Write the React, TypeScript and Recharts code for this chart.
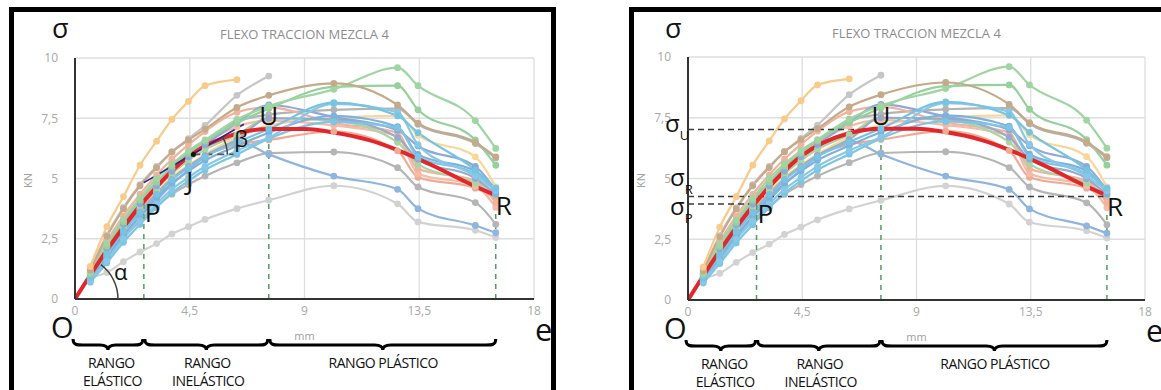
import {
  LineChart,
  Line,
  XAxis,
  YAxis,
  CartesianGrid,
  ReferenceDot,
} from "recharts";

// lecturas de deflexión (mm) comunes a todas las probetas
const lecturas = [0.6, 1.25, 1.9, 2.55, 3.2, 3.8, 4.45, 5.1, 6.35, 7.6, 10.15, 12.65, 13.45, 15.7, 16.5];

// carga (KN) por probeta
const p01 = [1.35, 3.0, 4.25, 5.55, 6.55, 7.45, 8.2, 8.85, 9.1];
const p02 = [1.2, 2.65, 3.8, 4.75, 5.5, 6.1, 6.65, 7.2, 8.45, 9.25];
const p03 = [1.2, 2.6, 3.75, 4.7, 5.45, 6.1, 6.6, 7.05, 7.95, 8.45, 8.95, 8.05, 7.3, 6.5, 5.9];
const p04 = [1.1, 2.3, 3.3, 4.2, 5.0, 5.6, 6.15, 6.6, 7.45, 8.0, 8.7, 9.6, 8.85, 7.4, 6.25];
const p05 = [1.05, 2.2, 3.2, 4.1, 4.85, 5.5, 6.05, 6.55, 7.3, 7.9, 8.8, 8.85, 7.85, 6.6, 5.55];
const p06 = [0.9, 1.85, 2.8, 3.6, 4.35, 4.95, 5.45, 5.9, 6.5, 7.05, 8.15, 7.6, 6.9, 5.35, 4.6];
const p07 = [0.75, 1.6, 2.5, 3.25, 3.95, 4.55, 5.05, 5.5, 6.15, 6.7, 8.1, 7.75, 6.4, 5.1, 4.5];
const p08 = [1.0, 2.1, 3.1, 3.95, 4.7, 5.3, 5.9, 6.4, 7.3, 8.05, 7.55, 7.0, 6.35, 5.5, 4.5];
const p09 = [1.05, 2.2, 3.2, 4.05, 4.8, 5.4, 5.95, 6.45, 7.35, 7.65, 7.85, 7.9, 7.25, 6.45, 5.85];
const p10 = [0.95, 2.0, 2.95, 3.75, 4.45, 5.05, 5.55, 6.0, 6.7, 7.2, 7.5, 7.6, 6.8, 5.9, 4.65];
const p11 = [1.1, 2.4, 3.45, 4.35, 5.15, 5.8, 6.4, 6.95, 7.75, 7.95, 7.3, 6.9, 5.4, 4.9, 4.0];
const p12 = [1.0, 2.15, 3.15, 4.0, 4.75, 5.4, 5.95, 6.45, 7.15, 7.4, 7.2, 6.75, 5.2, 4.7, 3.8];
const p13 = [0.9, 1.95, 2.9, 3.7, 4.4, 5.0, 5.5, 5.95, 6.4, 6.6, 6.95, 6.15, 5.05, 4.6, 4.2];
const p14 = [0.95, 2.0, 3.0, 3.85, 4.6, 5.2, 5.75, 6.2, 6.8, 7.5, 7.4, 6.5, 5.6, 4.8, 4.3];
const p15 = [0.85, 1.75, 2.65, 3.45, 4.2, 4.8, 5.3, 5.75, 6.35, 6.9, 7.6, 7.15, 6.0, 5.3, 4.4];
const p16 = [0.9, 1.85, 2.8, 3.6, 4.3, 4.95, 5.5, 5.95, 6.6, 7.5, 7.45, 6.7, 5.8, 5.0, 4.35];
const p17 = [0.85, 1.75, 2.55, 3.25, 3.85, 4.35, 4.75, 5.1, 5.65, 6.05, 6.1, 5.45, 4.65, 4.0, 3.1];
const p18 = [0.8, 1.7, 2.6, 3.4, 4.1, 4.75, 5.35, 5.9, 6.55, 6.0, 5.1, 4.55, 3.75, 3.05, 2.75];
const p19 = [0.9, 1.1, 1.55, 1.95, 2.3, 2.7, 3.0, 3.3, 3.75, 4.1, 4.7, 3.95, 3.2, 2.85, 2.55];
const p20 = [0.7, 1.5, 2.35, 3.1, 3.8, 4.4, 4.9, 5.35, 6.0, 6.65, 7.35, 7.1, 5.9, 5.2, 4.6];

// curva idealizada (roja)
const curvaX = [0, 1.3, 2.7, 4.5, 6.3, 7.6, 9, 10.2, 11.5, 12.6, 14, 15.6, 16.5];
const curvaY = [0, 2.1, 4.05, 5.95, 6.85, 7.05, 7.05, 6.9, 6.6, 6.2, 5.55, 4.72, 4.3];

// puntos característicos
const puntoP = { x: 2.7, y: 4.05 };
const puntoJ = { x: 4.64, y: 6.0 };
const puntoU = { x: 7.6, y: 7.05 };
const puntoR = { x: 16.5, y: 4.3 };
const tangenteJ = [{ x: 2.7, y: 4.83 }, { x: 6.62, y: 7.25 }];
const horizontalJ = [puntoJ, { x: 6.5, y: 6.0 }];
const sigmaU = 7.02;
const sigmaR = 4.26;
const sigmaP = 3.95;

const ticksX = [0, 4.5, 9, 13.5, 18];
const ticksY = [0, 2.5, 5, 7.5, 10];

const probetas = [
  { id: "p02", vals: p02, color: "#c6c6c6" },
  { id: "p19", vals: p19, color: "#d2d2d2" },
  { id: "p17", vals: p17, color: "#b5b5b5" },
  { id: "p18", vals: p18, color: "#8fb5de" },
  { id: "p09", vals: p09, color: "#b3b3b3" },
  { id: "p10", vals: p10, color: "#f9d79a" },
  { id: "p13", vals: p13, color: "#efaa94" },
  { id: "p12", vals: p12, color: "#f4bba8" },
  { id: "p11", vals: p11, color: "#f2b39e" },
  { id: "p14", vals: p14, color: "#a8d5a5" },
  { id: "p16", vals: p16, color: "#9aa9c9" },
  { id: "p08", vals: p08, color: "#8ea9d6" },
  { id: "p15", vals: p15, color: "#7fb1df" },
  { id: "p20", vals: p20, color: "#7cc6e4" },
  { id: "p07", vals: p07, color: "#86c8e6" },
  { id: "p06", vals: p06, color: "#77c3e2" },
  { id: "p05", vals: p05, color: "#96d09d" },
  { id: "p04", vals: p04, color: "#9fd5a3" },
  { id: "p03", vals: p03, color: "#c4aa8a" },
  { id: "p01", vals: p01, color: "#f8cb8a" },
];

const curva = curvaX.map((x, i) => ({ x, y: curvaY[i] }));
const coma = (v: number) => String(v).replace(".", ",");
const FONT = "'Open Sans', sans-serif";

const letra = (t: string, dx: number, dy: number, anchor: "start" | "middle" = "start", size = 26) =>
  (p: any) => (
    <text x={p.cx + dx} y={p.cy + dy} fontSize={size} fontFamily={FONT} textAnchor={anchor} fill="#111">
      {t}
    </text>
  );

const arco = (r: number, a0: number, a1: number) => (p: any) => {
  const rad = (a: number) => (a * Math.PI) / 180;
  const x0 = p.cx + r * Math.cos(rad(a0));
  const y0 = p.cy - r * Math.sin(rad(a0));
  const x1 = p.cx + r * Math.cos(rad(a1));
  const y1 = p.cy - r * Math.sin(rad(a1));
  return <path d={`M${x0},${y0} A${r},${r} 0 0 0 ${x1},${y1}`} fill="none" stroke="#444" strokeWidth={1.5} />;
};

function llave(x1: number, x2: number, y: number) {
  const m = (x1 + x2) / 2;
  return `M${x1},${y} C${x1},${y + 6} ${x1 + 4},${y + 6} ${x1 + 10},${y + 6} L${m - 8},${y + 6} C${m - 3},${y + 6} ${m},${y + 8} ${m},${y + 11} C${m},${y + 8} ${m + 3},${y + 6} ${m + 8},${y + 6} L${x2 - 10},${y + 6} C${x2 - 4},${y + 6} ${x2},${y + 6} ${x2},${y}`;
}

// trazo auxiliar (guías, tangente) dibujado como serie para que quede encima
function guia(key: string, data: { x: number; y: number }[], stroke: string, dash?: string, w = 1.5) {
  return (
    <Line
      key={key}
      data={data}
      dataKey="y"
      type="linear"
      stroke={stroke}
      strokeWidth={w}
      strokeDasharray={dash}
      dot={false}
      activeDot={false}
      isAnimationActive={false}
    />
  );
}

interface PanelProps {
  frameX: number;
  frameW: number;
  chartX: number;
  chartW: number;
  plotL: number;
  plotR: number;
  plotT: number;
  plotB: number;
  variante: "angulos" | "tensiones";
}

function Panel({ frameX, frameW, chartX, chartW, plotL, plotR, plotT, plotB, variante }: PanelProps) {
  const H = 340;
  const px = (x: number) => plotL + (x / 18) * (plotR - plotL);
  const xP = px(puntoP.x);
  const xU = px(puntoU.x);
  const xR = px(puntoR.x);
  const cx = (plotL + plotR) / 2;
  const yb = plotB + 42;
  const verde = "#4f9e5f";
  const negro = "#3a3a3a";

  return (
    <>
      <div
        style={{
          position: "absolute",
          left: frameX,
          top: 7,
          width: frameW,
          height: 390,
          border: "5px solid #000",
          boxSizing: "border-box",
        }}
      />
      <div style={{ position: "absolute", left: chartX, top: 0 }}>
        <LineChart
          width={chartW}
          height={H}
          margin={{ top: plotT, right: chartX + chartW - plotR, bottom: H - plotB - 30, left: 0 }}
        >
          <CartesianGrid stroke="#dedede" strokeWidth={1.3} />
          <XAxis
            type="number"
            dataKey="x"
            domain={[0, 18]}
            ticks={ticksX}
            interval={0}
            allowDataOverflow
            tickFormatter={coma}
            tickLine={false}
            tickMargin={1}
            height={30}
            axisLine={{ stroke: "#333", strokeWidth: 2 }}
            tick={{ fontSize: 12, fill: "#a8a8a8", fontFamily: FONT }}
          />
          <YAxis
            type="number"
            dataKey="y"
            domain={[0, 10]}
            ticks={ticksY}
            interval={0}
            allowDataOverflow
            tickFormatter={coma}
            tickLine={false}
            tickMargin={11}
            width={plotL - chartX}
            axisLine={{ stroke: "#333", strokeWidth: 2 }}
            tick={{ fontSize: 12, fill: "#a8a8a8", fontFamily: FONT }}
          />
          {probetas.map((s) => (
            <Line
              key={s.id}
              data={s.vals.map((y, i) => ({ x: lecturas[i], y }))}
              dataKey="y"
              type="monotone"
              stroke={s.color}
              strokeWidth={2.2}
              dot={{ r: 3.4, fill: s.color, stroke: s.color, strokeWidth: 0 }}
              activeDot={false}
              isAnimationActive={false}
            />
          ))}
          {[puntoP, puntoU, puntoR].map((pt, i) =>
            guia("v" + i, [{ x: pt.x, y: 0 }, pt], verde, "5 5")
          )}
          {variante === "tensiones" && [
            guia("su", [{ x: 0, y: sigmaU }, { x: puntoU.x, y: sigmaU }], negro, "6 4"),
            guia("sr", [{ x: 0, y: sigmaR }, { x: puntoR.x, y: sigmaR }], negro, "6 4"),
            guia("sp", [{ x: 0, y: sigmaP }, { x: puntoP.x, y: sigmaP }], negro, "6 4"),
          ]}
          <Line
            data={curva}
            dataKey="y"
            type="monotone"
            stroke="#e2262b"
            strokeWidth={4}
            dot={false}
            activeDot={false}
            isAnimationActive={false}
          />
          {variante === "angulos" && [
            guia("tg", tangenteJ, "#25288a", undefined, 1.6),
            guia("hj", horizontalJ, "#555", "7 5", 1.6),
          ]}
          {variante === "angulos" && (
            <>
              <ReferenceDot x={puntoJ.x} y={puntoJ.y} r={2.5} fill="#111" stroke="none" />
              <ReferenceDot x={puntoJ.x} y={puntoJ.y} ifOverflow="visible" shape={arco(34, 0, 30)} />
              <ReferenceDot x={0} y={0} ifOverflow="visible" shape={arco(43, 0, 53)} />
              <ReferenceDot x={0} y={0} ifOverflow="visible" shape={letra("α", 39, -19, "start", 22)} />
              <ReferenceDot x={puntoJ.x} y={puntoJ.y} shape={letra("β", 41, -7, "start", 22)} />
              <ReferenceDot x={puntoJ.x} y={puntoJ.y} shape={letra("J", -7, 36)} />
            </>
          )}
          <ReferenceDot x={puntoP.x} y={puntoP.y} shape={letra("P", 1, 21)} />
          <ReferenceDot x={puntoU.x} y={puntoU.y} shape={letra("U", 0, -4, "middle")} />
          <ReferenceDot x={puntoR.x} y={puntoR.y} ifOverflow="visible" shape={letra("R", 0, 20)} />
        </LineChart>
      </div>
      <svg
        width={1161}
        height={390}
        style={{ position: "absolute", left: 0, top: 0, pointerEvents: "none" }}
        fontFamily={FONT}
      >
        <text x={cx} y={plotT - 19} textAnchor="middle" fontSize={13} fill="#8c8c8c">
          FLEXO TRACCION MEZCLA 4
        </text>
        <text x={plotL - 48} y={(plotT + plotB) / 2 + 2} textAnchor="middle" fontSize={11} fill="#a0a0a0"
          transform={`rotate(-90 ${plotL - 48} ${(plotT + plotB) / 2 + 2})`} dominantBaseline="central">
          KN
        </text>
        <text x={cx} y={plotB + 41} textAnchor="middle" fontSize={11} fill="#a0a0a0">mm</text>
        <text x={plotL - 23} y={38} fontSize={27} fill="#111">σ</text>
        <text x={plotL - 24} y={plotB + 39} fontSize={29} fill="#111">O</text>
        <text x={plotR + 1} y={plotB + 42} fontSize={31} fill="#111">e</text>
        <path d={llave(plotL - 2, xP - 1, yb - 2)} fill="none" stroke="#000" strokeWidth={3} />
        <path d={llave(xP + 1, xU - 1, yb - 2)} fill="none" stroke="#000" strokeWidth={3} />
        <path d={llave(xU + 1, xR, yb - 2)} fill="none" stroke="#000" strokeWidth={3} />
        <g fontSize={14} fill="#111" textAnchor="middle" letterSpacing={-0.5}>
          <text x={(plotL + xP) / 2 + 2} y={plotB + 69}>RANGO</text>
          <text x={(plotL + xP) / 2 + 3} y={plotB + 87}>ELÁSTICO</text>
          <text x={(xP + xU) / 2 + 1} y={plotB + 69}>RANGO</text>
          <text x={(xP + xU) / 2 + 2} y={plotB + 87}>INELÁSTICO</text>
          <text x={(xU + xR) / 2 + 1} y={plotB + 69}>RANGO PLÁSTICO</text>
        </g>
        {variante === "tensiones" && (
          <g fill="#111">
            <text x={plotL - 23} y={132} fontSize={24}>σ<tspan fontSize={13} dy={8}>U</tspan></text>
            <text x={plotL - 18} y={186} fontSize={24}>σ<tspan fontSize={13} dy={8}>R</tspan></text>
            <text x={plotL - 18} y={215} fontSize={24}>σ<tspan fontSize={13} dy={8}>P</tspan></text>
          </g>
        )}
      </svg>
    </>
  );
}

export default function App() {
  return (
    <div
      style={{
        position: "absolute",
        left: 0,
        top: 0,
        width: 1161,
        height: 390,
        overflow: "hidden",
        background: "#fff",
      }}
    >
      <Panel frameX={9} frameW={547} chartX={15} chartW={540} plotL={75} plotR={534} plotT={58} plotB={299} variante="angulos" />
      <Panel frameX={629} frameW={560} chartX={636} chartW={525} plotL={688} plotR={1145} plotT={57} plotB={300} variante="tensiones" />
    </div>
  );
}
